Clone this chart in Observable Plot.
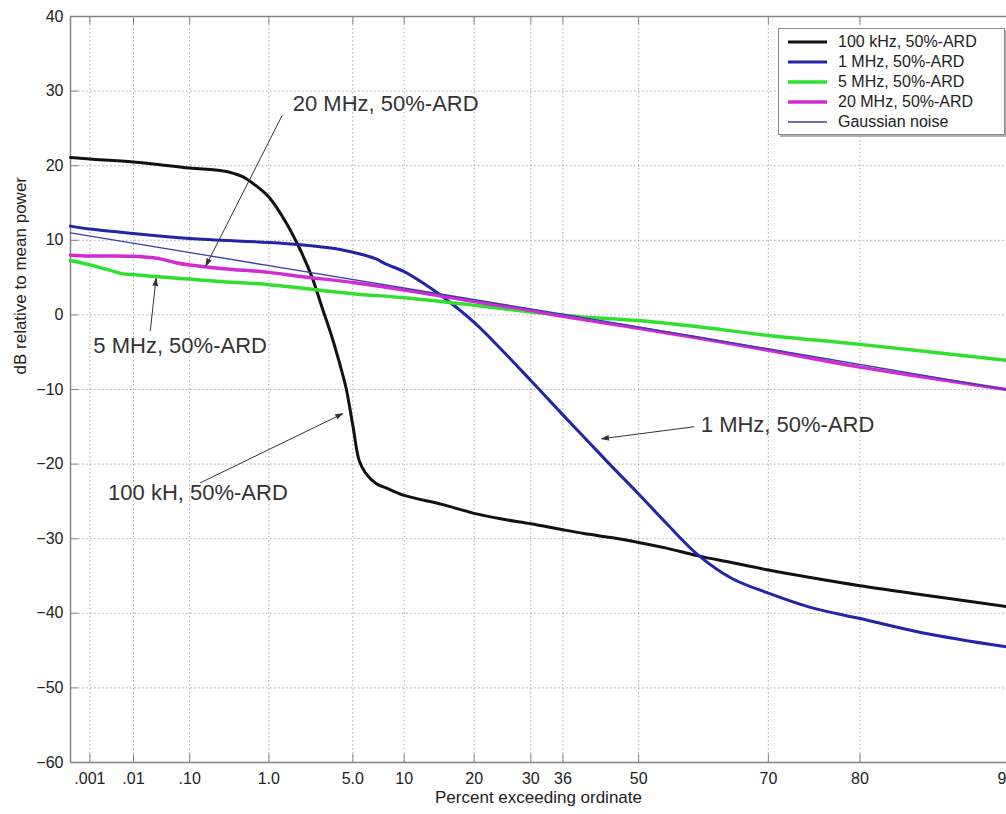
<!DOCTYPE html>
<html>
<head>
<meta charset="utf-8">
<script src="https://cdn.jsdelivr.net/npm/d3@7"></script>
<script src="https://cdn.jsdelivr.net/npm/@observablehq/plot@0.6"></script>
<style>
  html, body { margin: 0; padding: 0; background: #fff; }
  #wrap { position: relative; width: 1006px; height: 814px; overflow: hidden; font-family: 'Liberation Sans', Arial, sans-serif; }
  #legend { position: absolute; left: 778px; top: 28px; width: 227px; height: 107px; box-sizing: border-box;
            border: 1px solid #8a8a8a; box-shadow: 2px 2px 0 #b0b0b0; background: #fff; }
  .row { position: absolute; left: 0; height: 20px; width: 100%; }
  .row svg { position: absolute; left: 9px; top: 0; }
  .row span { position: absolute; left: 59px; top: 0; line-height: 20px; font-size: 16px; color: #222; white-space: nowrap; }
</style>
</head>
<body>
<div id="wrap"><div id="chart"></div><div id="legend"></div></div>
<script>
// ---- data (percent exceeding ordinate, dB relative to mean power) ----
const seriesNames = ["100 kHz, 50%-ARD", "1 MHz, 50%-ARD", "5 MHz, 50%-ARD", "20 MHz, 50%-ARD", "Gaussian noise"];
const seriesColors = ["#111111", "#2424a8", "#2fe02f", "#d02cd0", "#3c3cae"];
const seriesWidths = [3, 3, 3.5, 3.5, 1.4];

const p100k = [0.0003, 0.001, 0.01, 0.1, 0.3, 0.5, 0.7, 1, 1.5, 2, 2.5, 3, 3.5, 4, 4.5, 5, 5.5, 6, 7, 8, 10, 15, 20, 25, 30, 36, 40, 45, 50, 55, 60, 65, 70, 75, 80, 85, 90];
const db100k = [21.1, 20.9, 20.5, 19.7, 19.3, 18.6, 17.5, 15.8, 12.2, 8.6, 5.0, 1.0, -2.5, -6.1, -9.8, -14.8, -19.5, -21.1, -22.6, -23.2, -24.2, -25.4, -26.6, -27.4, -28.0, -28.8, -29.3, -29.85, -30.5, -31.3, -32.3, -33.2, -34.2, -35.2, -36.3, -37.5, -39.1];

const p1M = [0.0003, 0.001, 0.01, 0.1, 1, 2, 3, 4, 5, 6, 7, 8, 10, 12, 15, 20, 25, 30, 36, 40, 45, 50, 55, 60, 65, 70, 75, 80, 85, 90];
const db1M = [11.9, 11.5, 10.9, 10.25, 9.7, 9.4, 9.1, 8.8, 8.4, 8.0, 7.5, 6.8, 5.8, 4.5, 2.5, -1.0, -4.9, -8.8, -13.4, -16.4, -20.2, -24.0, -28.1, -32.2, -35.3, -37.3, -39.2, -40.7, -42.6, -44.5];

const p5M = [0.0003, 0.001, 0.003, 0.006, 0.01, 0.03, 0.1, 0.3, 1, 2, 5, 10, 20, 30, 36, 40, 50, 60, 70, 80, 90];
const db5M = [7.3, 6.7, 6.0, 5.5, 5.4, 5.1, 4.8, 4.45, 4.05, 3.6, 2.85, 2.3, 1.3, 0.4, -0.05, -0.3, -0.75, -1.6, -2.75, -3.95, -6.1];

const p20M = [0.0003, 0.001, 0.01, 0.03, 0.06, 0.1, 0.3, 1, 2, 5, 10, 20, 30, 36, 50, 60, 70, 80, 85, 90];
const db20M = [8.0, 7.9, 7.85, 7.55, 7.0, 6.7, 6.2, 5.7, 5.15, 4.35, 3.35, 1.8, 0.6, -0.2, -1.8, -3.1, -4.75, -7.0, -8.3, -10.0];

const pGauss = [0.0003, 1, 36, 90];
const dbGauss = [11.0, 6.6, 0.1, -10.0];

const tickPercents = [0.001, 0.01, 0.1, 1, 5, 10, 20, 30, 36, 50, 70, 80, 90];
const tickLabels = [".001", ".01", ".10", "1.0", "5.0", "10", "20", "30", "36", "50", "70", "80", "90"];
const yTicks = [-60, -50, -40, -30, -20, -10, 0, 10, 20, 30, 40];
const xDomainPct = [0.0003, 90];
const yDomain = [-60, 40];

const annotations = [
  {label: "20 MHz, 50%-ARD", tx: 1.70, ty: 28.3, x1: 1.35, y1: 26.7, x2: 0.174, y2: 6.6},
  {label: "5 MHz, 50%-ARD", tx: 0.00122, ty: -4.1, x1: 0.0214, y1: -2.1, x2: 0.0273, y2: 4.84},
  {label: "100 kH, 50%-ARD", tx: 0.00278, ty: -23.9, x1: 0.145, y1: -22.5, x2: 4.25, y2: -13.26},
  {label: "1 MHz, 50%-ARD", tx: 60.4, ty: -14.8, x1: 59.3, y1: -15.0, x2: 43.3, y2: -16.6}
];

// ---- Rayleigh (APD) abscissa transform ----
const xOf = p => Math.log10(-Math.log(p / 100));

const allP = [p100k, p1M, p5M, p20M, pGauss];
const allDb = [db100k, db1M, db5M, db20M, dbGauss];
const rows = [];
allP.forEach((ps, s) => ps.forEach((p, i) => rows.push({series: seriesNames[s], p, db: allDb[s][i]})));

const W = 1006, H = 814, mL = 70, mR = 0, mT = 16, mB = 52;
const xL = xOf(xDomainPct[0]), xR = xOf(xDomainPct[1]);
const tickXs = tickPercents.map(xOf);
const pxPerX = (W - mL - mR) / (xL - xR);
const pxPerY = (H - mT - mB) / (yDomain[1] - yDomain[0]);
const tLenX = 8 / pxPerX, tLenY = 8 / pxPerY;
const axisColor = "#858585";
const font = "'Liberation Sans', Arial, sans-serif";

const lineMarks = seriesNames.map((name, s) =>
  Plot.line(rows.filter(r => r.series === name), {
    x: d => xOf(d.p), y: "db", stroke: seriesColors[s], strokeWidth: seriesWidths[s], curve: "catmull-rom"
  }));

const chart = Plot.plot({
  width: W, height: H,
  marginLeft: mL, marginRight: mR, marginTop: mT, marginBottom: mB,
  style: {fontFamily: font, fontSize: "16px", color: "#222", background: "white"},
  x: {type: "linear", domain: [xL, xR]},
  y: {domain: yDomain},
  marks: [
    Plot.gridX(tickXs, {x: d => d, stroke: "#a8a8a8", strokeOpacity: 1, strokeDasharray: "1.5,2.5"}),
    Plot.gridY(yTicks, {y: d => d, stroke: "#a8a8a8", strokeOpacity: 1, strokeDasharray: "1.5,2.5"}),
    Plot.ruleY([yDomain[0], yDomain[1]], {stroke: axisColor, strokeWidth: 1.5}),
    Plot.ruleX([xL], {stroke: axisColor, strokeWidth: 1.5}),
    Plot.ruleX(tickXs, {x: d => d, y1: yDomain[0], y2: yDomain[0] + tLenY, stroke: axisColor}),
    Plot.ruleX(tickXs, {x: d => d, y1: yDomain[1], y2: yDomain[1] - tLenY, stroke: axisColor}),
    Plot.ruleY(yTicks, {y: d => d, x1: xL, x2: xL - tLenX, stroke: axisColor}),
    Plot.axisX(tickXs, {tickSize: 0, tickPadding: 10, fontSize: 16, label: null,
      tickFormat: d => tickLabels[tickXs.indexOf(d)]}),
    Plot.axisY(yTicks, {tickSize: 0, tickPadding: 7, fontSize: 16, label: null}),
    ...lineMarks,
    Plot.arrow(annotations, {x1: d => xOf(d.x1), y1: "y1", x2: d => xOf(d.x2), y2: "y2",
      stroke: "#333", fill: "#333", strokeWidth: 1, headLength: 11, headAngle: 36}),
    Plot.text(annotations, {x: d => xOf(d.tx), y: "ty", text: "label", textAnchor: "start",
      fontSize: 22, fill: "#333"}),
    Plot.text(["Percent exceeding ordinate"], {frameAnchor: "bottom", dy: 40, fontSize: 17, fill: "#222"}),
    Plot.text(["dB relative to mean power"], {frameAnchor: "left", dx: -50, dy: -15, rotate: -90, fontSize: 17, fill: "#222"})
  ]
});
document.getElementById("chart").appendChild(chart);

// ---- legend ----
const legend = document.getElementById("legend");
seriesNames.forEach((name, s) => {
  const row = document.createElement("div");
  row.className = "row";
  row.style.top = (3 + 20 * s) + "px";
  row.innerHTML = `<svg width="40" height="20"><line x1="0" x2="39" y1="10" y2="10" stroke="${seriesColors[s]}" stroke-width="${seriesWidths[s]}"/></svg><span>${name}</span>`;
  legend.appendChild(row);
});
</script>
</body>
</html>
